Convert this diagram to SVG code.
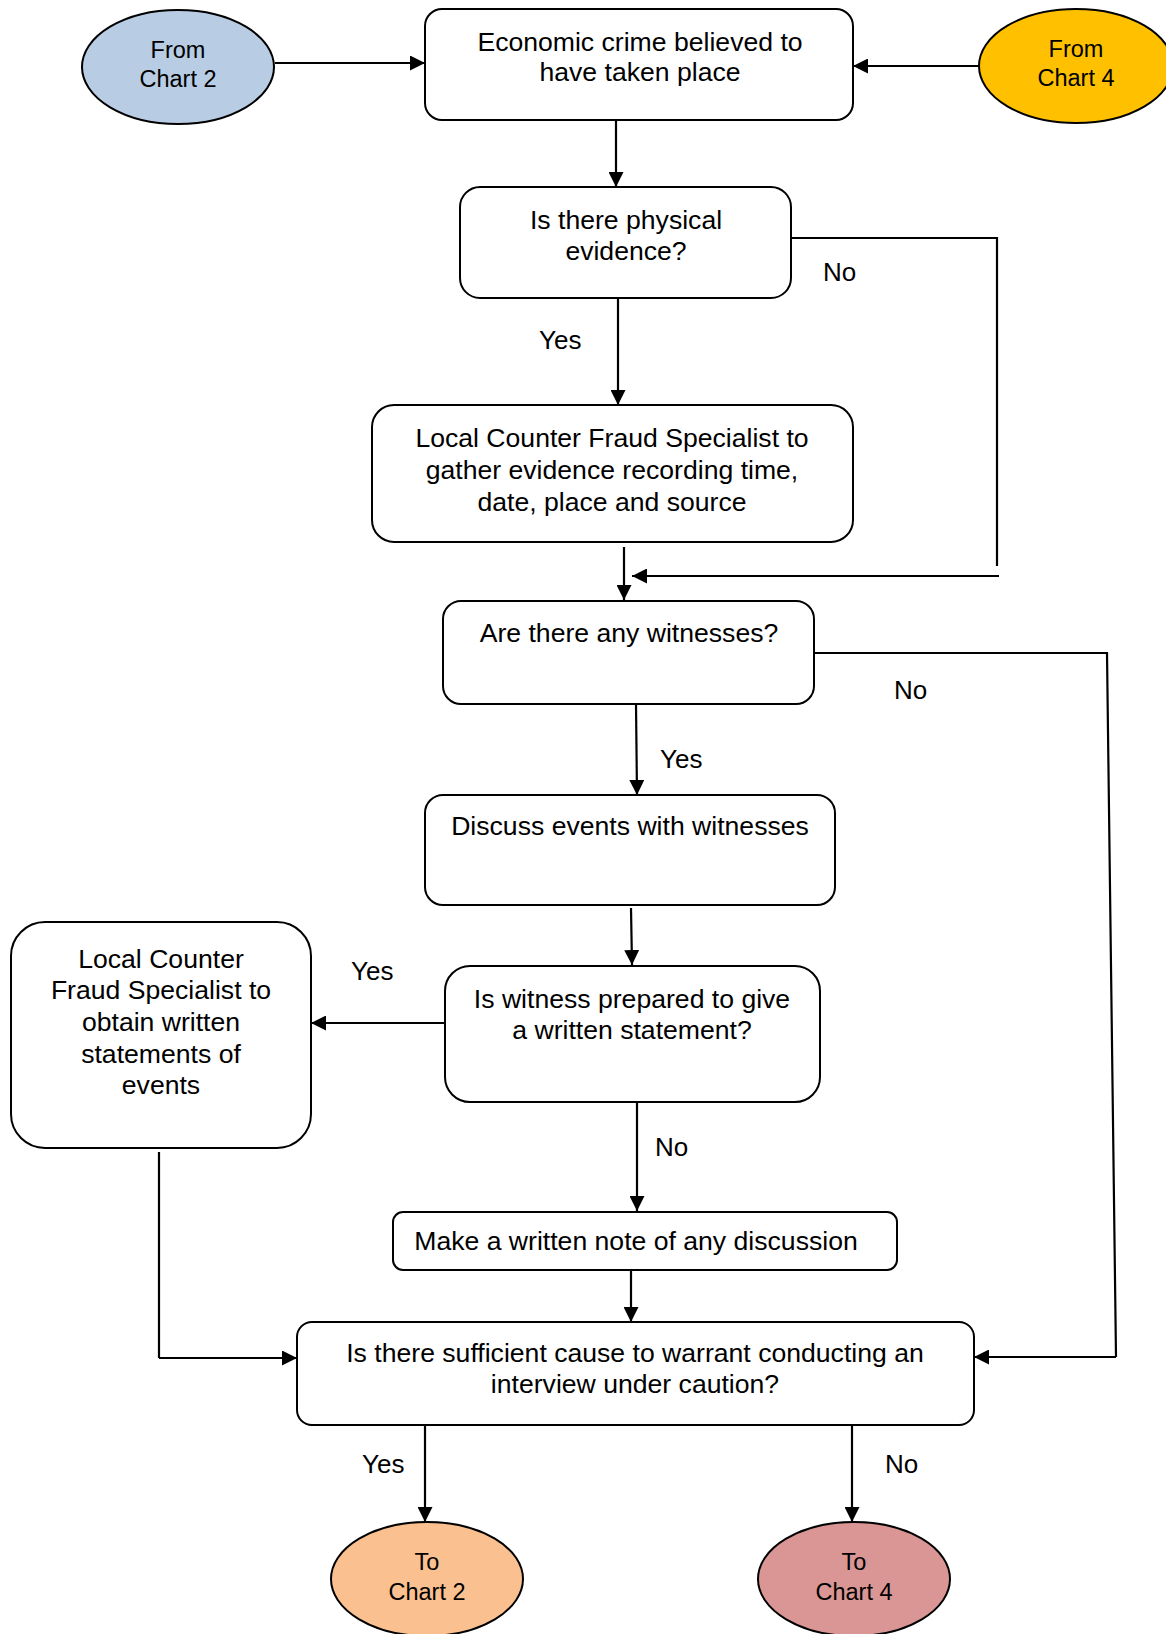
<svg xmlns="http://www.w3.org/2000/svg" width="1166" height="1634" viewBox="0 0 1166 1634">
<style>
.box{fill:#fff;stroke:#000;stroke-width:2}
.ell{stroke:#000;stroke-width:2}
.t{font-family:"Liberation Sans",Arial,sans-serif;font-size:26.6px;fill:#000;text-anchor:middle}
.te{font-family:"Liberation Sans",Arial,sans-serif;font-size:23.5px;fill:#000;text-anchor:middle}
.lbl{font-family:"Liberation Sans",Arial,sans-serif;font-size:26px;fill:#000}
.c{fill:none;stroke:#000;stroke-width:2.2}
.ca{fill:none;stroke:#000;stroke-width:2.2;marker-end:url(#ah)}
</style>
<defs>
<marker id="ah" viewBox="0 0 15 15" refX="15" refY="7.5" markerWidth="15" markerHeight="15" markerUnits="userSpaceOnUse" orient="auto">
<path d="M0,0 L15,7.5 L0,15 z" fill="#000"/>
</marker>
</defs>
<rect width="1166" height="1634" fill="#fff"/>

<g id="connectors">
<path class="ca" d="M275,63 L425,63"/>
<path class="ca" d="M979,66 L853,66"/>
<path class="ca" d="M616,120 L616,187"/>
<path class="c" d="M791,238 L997,238 L997,566"/>
<path class="ca" d="M999,576 L632,576"/>
<path class="ca" d="M618,298 L618,405"/>
<path class="ca" d="M624,547 L624,600"/>
<path class="c" d="M814,653 L1107,653 L1116,1357"/>
<path class="ca" d="M1116,1357 L974,1357"/>
<path class="ca" d="M636,704 L637,795"/>
<path class="ca" d="M631,908 L632,965"/>
<path class="ca" d="M444,1023 L311,1023"/>
<path class="ca" d="M637,1102 L637,1211"/>
<path class="ca" d="M631,1263 L631,1322"/>
<path class="c" d="M159,1152 L159,1358"/>
<path class="ca" d="M159,1358 L297,1358"/>
<path class="ca" d="M425,1425 L425,1522"/>
<path class="ca" d="M852,1425 L852,1522"/>
<text class="lbl" x="823" y="281">No</text>
<text class="lbl" x="539" y="349">Yes</text>
<text class="lbl" x="894" y="699">No</text>
<text class="lbl" x="660" y="768">Yes</text>
<text class="lbl" x="351" y="980">Yes</text>
<text class="lbl" x="655" y="1156">No</text>
<text class="lbl" x="362" y="1473">Yes</text>
<text class="lbl" x="885" y="1473">No</text>
</g>

<g id="from-chart-2">
<ellipse class="ell" cx="178" cy="67" rx="96" ry="57" fill="#b8cce4"/>
<text class="te" x="178" y="58">From</text>
<text class="te" x="178" y="87">Chart 2</text>
</g>

<g id="from-chart-4">
<ellipse class="ell" cx="1076" cy="66" rx="97" ry="57" fill="#ffc000"/>
<text class="te" x="1076" y="57">From</text>
<text class="te" x="1076" y="86">Chart 4</text>
</g>

<g id="economic-crime">
<rect class="box" x="425" y="9" width="428" height="111" rx="17"/>
<text class="t" x="640" y="51">Economic crime believed to</text>
<text class="t" x="640" y="81">have taken place</text>
</g>

<g id="physical-evidence">
<rect class="box" x="460" y="187" width="331" height="111" rx="20"/>
<text class="t" x="626" y="229">Is there physical</text>
<text class="t" x="626" y="260">evidence?</text>
</g>

<g id="gather-evidence">
<rect class="box" x="372" y="405" width="481" height="137" rx="22"/>
<text class="t" x="612" y="447">Local Counter Fraud Specialist to</text>
<text class="t" x="612" y="479">gather evidence recording time,</text>
<text class="t" x="612" y="511">date, place and source</text>
</g>

<g id="witnesses">
<rect class="box" x="443" y="601" width="371" height="103" rx="18"/>
<text class="t" x="629" y="642">Are there any witnesses?</text>
</g>

<g id="discuss-events">
<rect class="box" x="425" y="795" width="410" height="110" rx="18"/>
<text class="t" x="630" y="835">Discuss events with witnesses</text>
</g>

<g id="witness-prepared">
<rect class="box" x="445" y="966" width="375" height="136" rx="25"/>
<text class="t" x="632" y="1008">Is witness prepared to give</text>
<text class="t" x="632" y="1039">a written statement?</text>
</g>

<g id="obtain-statements">
<rect class="box" x="11" y="922" width="300" height="226" rx="34"/>
<text class="t" x="161" y="968">Local Counter</text>
<text class="t" x="161" y="999">Fraud Specialist to</text>
<text class="t" x="161" y="1031">obtain written</text>
<text class="t" x="161" y="1063">statements of</text>
<text class="t" x="161" y="1094">events</text>
</g>

<g id="written-note">
<rect class="box" x="393" y="1212" width="504" height="58" rx="10"/>
<text class="t" x="636" y="1250">Make a written note of any discussion</text>
</g>

<g id="sufficient-cause">
<rect class="box" x="297" y="1322" width="677" height="103" rx="15"/>
<text class="t" x="635" y="1362">Is there sufficient cause to warrant conducting an</text>
<text class="t" x="635" y="1393">interview under caution?</text>
</g>

<g id="to-chart-2">
<ellipse class="ell" cx="427" cy="1579" rx="96" ry="57" fill="#fac090"/>
<text class="te" x="427" y="1570">To</text>
<text class="te" x="427" y="1600">Chart 2</text>
</g>

<g id="to-chart-4">
<ellipse class="ell" cx="854" cy="1579" rx="96" ry="57" fill="#d99694"/>
<text class="te" x="854" y="1570">To</text>
<text class="te" x="854" y="1600">Chart 4</text>
</g>
</svg>
